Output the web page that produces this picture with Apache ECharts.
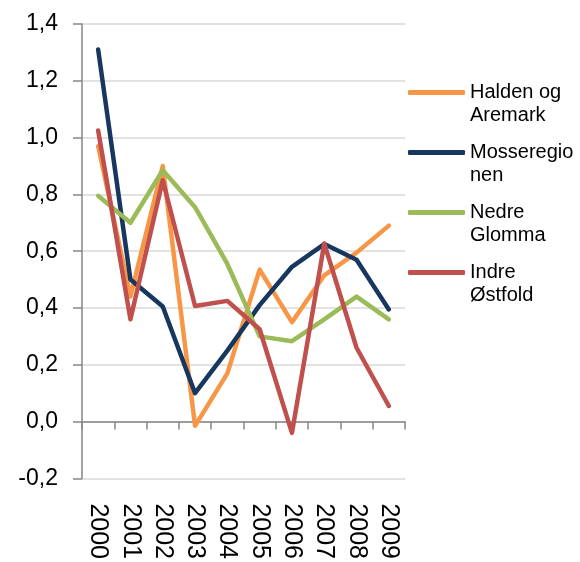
<html>
<head>
    <meta charset="utf-8" />
    <title>Regioner</title>
    <script src="https://cdn.jsdelivr.net/npm/echarts@6/dist/echarts.min.js"></script>
    <style>
        body { margin: 0; background: #fff; }
    </style>
</head>
<body>
    <div id="chart" style="width: 580px;height:562px;"></div>
    <script type="text/javascript">
        // years on the category axis
        var years = ['2000', '2001', '2002', '2003', '2004', '2005', '2006', '2007', '2008', '2009'];

        // series values
        var halden = [0.97, 0.44, 0.90, -0.015, 0.17, 0.535, 0.35, 0.515, 0.595, 0.69];
        var mosse = [1.31, 0.50, 0.405, 0.10, 0.25, 0.41, 0.545, 0.625, 0.57, 0.395];
        var nedre = [0.795, 0.70, 0.885, 0.755, 0.555, 0.30, 0.283, 0.36, 0.44, 0.36];
        var indre = [1.025, 0.36, 0.85, 0.407, 0.425, 0.325, -0.04, 0.627, 0.26, 0.055];

        var seriesNames = ['Halden og Aremark', 'Mosseregionen', 'Nedre Glomma', 'Indre Østfold'];
        var legendLabels = ['Halden og\nAremark', 'Mosseregio\nnen', 'Nedre\nGlomma', 'Indre\nØstfold'];
        var colors = ['#F79646', '#17375E', '#9BBB59', '#C0504D'];

        var chart = echarts.init(document.getElementById('chart'), null, { renderer: 'canvas' });

        var font = '"Liberation Sans", Arial, sans-serif';

        function makeLine(name, values, color) {
            return {
                name: name,
                type: 'line',
                data: values,
                symbol: 'none',
                xAxisIndex: 0,
                lineStyle: { width: 4.5, color: color, cap: 'round', join: 'round' },
                itemStyle: { color: color }
            };
        }

        var option = {
            animation: false,
            color: colors,
            textStyle: { fontFamily: font },
            grid: { left: 82, right: 175, top: 24, bottom: 83 },
            legend: {
                orient: 'vertical',
                left: 408,
                top: 58,
                padding: 0,
                itemGap: -9,
                itemWidth: 57,
                itemHeight: 5,
                icon: 'roundRect',
                data: seriesNames,
                // blank first line so the icon sits next to the first text line
                formatter: function (name) {
                    return '\u00a0\n' + legendLabels[seriesNames.indexOf(name)];
                },
                textStyle: {
                    fontFamily: font,
                    fontSize: 20,
                    lineHeight: 23,
                    color: '#000'
                }
            },
            xAxis: [
                {
                    // line through zero with ticks
                    type: 'category',
                    data: years,
                    position: 'top',
                    boundaryGap: true,
                    axisLine: { onZero: true, lineStyle: { color: '#868686', width: 1.5 } },
                    axisTick: { show: true, inside: true, interval: 0, length: 8, lineStyle: { color: '#868686', width: 1.5 } },
                    axisLabel: { show: false },
                    splitLine: { show: false }
                },
                {
                    // labels at the bottom
                    type: 'category',
                    data: years,
                    position: 'bottom',
                    boundaryGap: true,
                    axisLine: { show: false, onZero: false },
                    axisTick: { show: false },
                    axisLabel: {
                        rotate: -90,
                        interval: 0,
                        margin: 25,
                        fontSize: 25,
                        color: '#000',
                        fontFamily: font
                    },
                    splitLine: { show: false }
                }
            ],
            yAxis: {
                type: 'value',
                min: -0.2,
                max: 1.4,
                interval: 0.2,
                axisLine: { show: true, lineStyle: { color: '#868686', width: 1.5 } },
                axisTick: { show: true, length: 9, lineStyle: { color: '#868686', width: 1.5 } },
                axisLabel: {
                    margin: 24,
                    fontSize: 23,
                    color: '#000',
                    fontFamily: font,
                    formatter: function (v) {
                        return v.toFixed(1).replace('.', ',');
                    }
                },
                splitLine: { lineStyle: { color: '#D9D9D9', width: 1.5 } }
            },
            series: [
                makeLine(seriesNames[0], halden, colors[0]),
                makeLine(seriesNames[1], mosse, colors[1]),
                makeLine(seriesNames[2], nedre, colors[2]),
                makeLine(seriesNames[3], indre, colors[3])
            ]
        };
        option && chart.setOption(option);
    </script>
</body>
</html>
